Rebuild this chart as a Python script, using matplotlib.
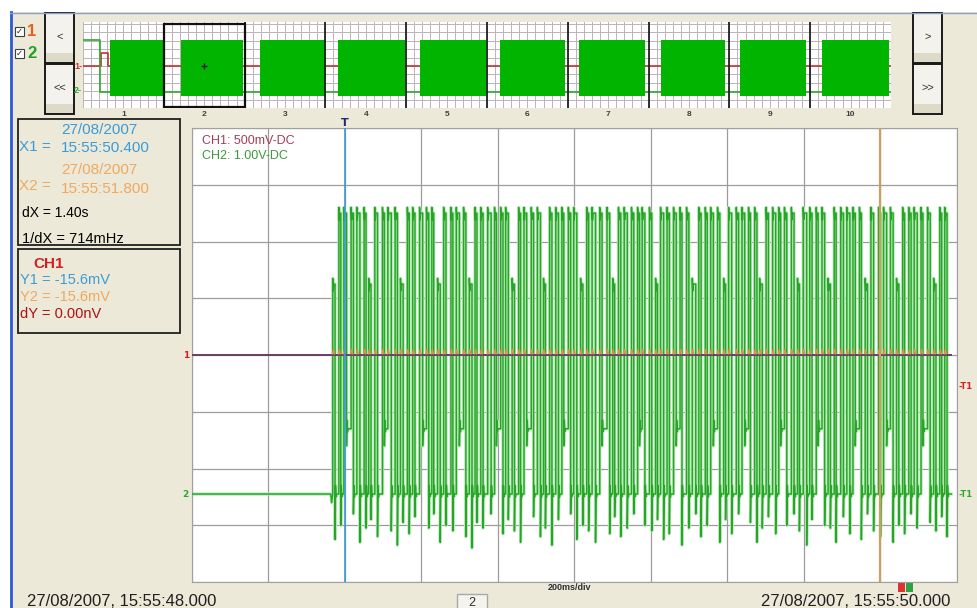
import matplotlib
matplotlib.use('Agg')
import matplotlib.pyplot as plt
import matplotlib.transforms as mtransforms
from matplotlib.patches import Rectangle
import numpy as np

plt.rcParams['font.family'] = ['Liberation Sans', 'DejaVu Sans']

W, H = 978, 608

# ---- main screen: 2 s window, 200 ms/div, 8 vertical divisions ----
burst_start_ms = 368
# CH2 pulse train: alternating high / low durations (ms)
high_ms = [6, 5, 7, 6, 8, 5, 6, 7, 5, 9,
           6, 7, 5, 6, 8, 6, 5, 7, 6, 5,
           8, 6, 7, 5, 6, 9, 5, 6, 7, 6,
           5, 7, 6, 8, 5, 6, 7, 5, 6, 8,
           6, 5, 9, 6, 7, 5, 6, 8, 6, 5,
           7, 6, 5, 8, 6, 7, 5, 6, 9, 6,
           5, 7, 6, 5, 8, 6, 7, 5, 6, 7,
           6, 8, 5, 6, 7, 5, 9, 6, 5, 7,
           6, 5, 7, 8, 6, 5, 6, 7, 5, 8,
           7, 6, 5, 6, 8, 5, 7, 6, 5, 6]
low_ms = [10, 8, 12, 9, 11, 7, 10, 13, 9, 10,
          8, 11, 9, 12, 10, 8, 10, 9, 13, 9,
          11, 9, 8, 10, 12, 9, 11, 7, 10, 11,
          9, 12, 10, 8, 11, 10, 9, 12, 8, 10,
          10, 9, 11, 13, 8, 10, 9, 11, 10, 7,
          12, 10, 8, 9, 11, 10, 12, 9, 8, 11,
          9, 11, 10, 8, 12, 9, 10, 11, 7, 10,
          11, 8, 10, 12, 9, 10, 8, 11, 10, 9,
          10, 12, 9, 8, 11, 10, 9, 13, 8, 10,
          9, 10, 11, 8, 10, 12, 9, 10, 8, 11]
# undershoot depth of each falling edge (divisions)
spike_div = [0.75, 1.0, 0.85, 1.2, 0.7, 0.95, 1.1, 0.8, 1.25, 0.9,
             0.65, 1.05, 0.85, 1.15, 0.75, 0.95, 1.2, 0.7, 1.0, 0.9,
             1.1, 0.8, 0.6, 1.05, 0.95, 1.2, 0.75, 0.85, 1.1, 0.9,
             0.7, 1.0, 1.15, 0.8, 0.95, 0.65, 1.1, 0.85, 1.2, 0.75,
             1.0, 0.9, 0.7, 1.05, 0.85, 1.15, 0.8, 0.95, 1.2, 0.7,
             1.0, 0.9, 1.1, 0.75, 0.85, 1.05, 0.65, 0.95, 1.2, 0.8,
             1.0, 0.9, 0.7, 1.1, 0.85, 1.2, 0.8, 1.05, 0.7, 0.95,
             1.15, 0.85, 0.75, 1.0, 1.2, 0.9, 0.65, 1.1, 0.8, 1.0,
             0.95, 0.7, 1.15, 0.85, 1.05, 0.75, 1.2, 0.9, 0.8, 1.1,
             0.7, 1.0, 0.85, 1.2, 0.95, 0.75, 1.05, 0.9, 1.15, 0.8]
# pulses that do not reach the full level
runt_high_idx = [0, 6, 11, 17, 22, 29, 34, 40, 45, 52, 58, 63, 69, 75, 80, 86, 91, 97]
runt_low_idx = [2, 8, 14, 20, 26, 31, 37, 43, 49, 55, 61, 66, 72, 78, 84, 89, 95]

ch1_div = 4.0
ch2_high_div = 6.5
ch2_low_div = 1.55
runt_high_div = 5.25
runt_low_div = 2.7
trig_ch1_div = 3.44
trig_ch2_div = 1.55
cursor_x1_ms = 400
cursor_x2_ms = 1800

# ---- overview strip: 10 records of 2 s ----
ov_burst_start_s = [0.67, 2.42, 4.37, 6.30, 8.35, 10.32, 12.27, 14.30, 16.27, 18.30]
ov_burst_end_s = [2.02, 3.95, 6.02, 7.97, 9.98, 11.92, 13.90, 15.90, 17.90, 19.95]
ov_ch2_t = [0.0, 0.42, 0.42, 20.0]
ov_ch2_v = [6.5, 6.5, 1.55, 1.55]
ov_ch1_t = [0.0, 0.45, 0.45, 0.62, 0.62, 20.0]
ov_ch1_v = [4.0, 4.0, 5.26, 5.26, 4.0, 4.0]
ov_labels = ['1', '2', '3', '4', '5', '6', '7', '8', '9', '10']
ov_selected = 2

BEIGE = '#ECE9D8'
GREEN = '#2EA82E'
X1_COL = '#3C9BD6'
X2_COL = '#F0A860'

fig = plt.figure(figsize=(W / 100, H / 100), dpi=100, facecolor=BEIGE)

# background / window chrome in pixel coordinates
bg = fig.add_axes([0, 0, 1, 1], zorder=0)
bg.set_xlim(0, W)
bg.set_ylim(H, 0)
bg.axis('off')
bg.add_patch(Rectangle((0, 0), W, 12, facecolor='white', edgecolor='none'))
bg.add_patch(Rectangle((0, 0), 10, H, facecolor='white', edgecolor='none'))
bg.plot([10.5, 10.5], [12, H], color='#2A5BD7', lw=2)
bg.plot([10, W], [12.5, 12.5], color='#8AA0C8', lw=1)

# check boxes
for yy, lab, col in [(31, '1', '#E8601C'), (53, '2', '#22A022')]:
    bg.add_patch(Rectangle((15, yy - 4.5), 9, 9, facecolor='white',
                           edgecolor='#404040', lw=0.8))
    bg.text(19.5, yy, '\u2713', fontsize=6, ha='center', va='center',
            color='#202020', family='DejaVu Sans')
    bg.text(27, yy, lab, fontsize=12, ha='left', va='center', color=col,
            fontweight='bold')

# navigation buttons
for x0, labs in [(45, ['<', '<<']), (913, ['>', '>>'])]:
    for i, lab in enumerate(labs):
        y0 = 13 + i * 51
        bg.add_patch(Rectangle((x0, y0), 29, 50, facecolor='#F3F2EC',
                               edgecolor='#1A1A1A', lw=1.4))
        bg.add_patch(Rectangle((x0 + 1, y0 + 40), 27, 9, facecolor='#DEDAC8',
                               edgecolor='none'))
        bg.text(x0 + 14.5, y0 + 24, lab, fontsize=8, ha='center',
                va='center', color='#303030')

# cursor info boxes
bg.add_patch(Rectangle((18, 119), 162, 126, facecolor='none',
                       edgecolor='#202020', lw=1.3))
bg.add_patch(Rectangle((18, 249), 162, 84, facecolor='none',
                       edgecolor='#202020', lw=1.3))
fs = 11
bg.text(19, 147, 'X1 =', color=X1_COL, fontsize=fs, va='center')
bg.text(61, 130, '27/08/2007', color=X1_COL, fontsize=fs, va='center')
bg.text(61, 148, '15:55:50.400', color=X1_COL, fontsize=fs, va='center')
bg.text(19, 186, 'X2 =', color=X2_COL, fontsize=fs, va='center')
bg.text(61, 170, '27/08/2007', color=X2_COL, fontsize=fs, va='center')
bg.text(61, 189, '15:55:51.800', color=X2_COL, fontsize=fs, va='center')
bg.text(22, 213, 'dX = 1.40s', color='black', fontsize=10, va='center')
bg.text(22, 239, '1/dX = 714mHz', color='black', fontsize=10.5, va='center')
bg.text(49, 264, 'CH1', color='#D02020', fontsize=11, va='center',
        ha='center', fontweight='bold')
bg.text(20, 280, 'Y1 = -15.6mV', color=X1_COL, fontsize=10.5, va='center')
bg.text(20, 297, 'Y2 = -15.6mV', color=X2_COL, fontsize=10.5, va='center')
bg.text(20, 314, 'dY = 0.00nV', color='#B01010', fontsize=10.5, va='center')

# bottom status line
bg.text(570, 588, '200ms/div', fontsize=6.5, ha='center', va='center',
        color='#303030', fontweight='bold')
bg.add_patch(Rectangle((898, 583), 7, 9, facecolor='#E03030', edgecolor='none'))
bg.add_patch(Rectangle((906, 583), 7, 9, facecolor='#30A040', edgecolor='none'))
bg.text(27, 601, '27/08/2007, 15:55:48.000', fontsize=12, va='center',
        color='#202020')
bg.text(950, 601, '27/08/2007, 15:55:50.000', fontsize=12, va='center',
        ha='right', color='#202020')
bg.add_patch(Rectangle((457, 594), 30, 16, facecolor='#F4F3EE',
                       edgecolor='#A8A8A8', lw=1))
bg.text(472, 603, ov_labels[ov_selected - 1], fontsize=9, ha='center',
        va='center', color='#303030')

# ---- overview strip ----
ov = fig.add_axes([83 / W, 1 - 108 / H, 808 / W, 86 / H], zorder=2)
ov.set_facecolor('white')
ov.set_xlim(0, 20)
ov.set_ylim(0, 8.2)
ov.set_xticks(np.arange(0, 20.01, 0.2))
ov.set_yticks(np.arange(0.8, 8.2, 0.8))
ov.grid(True, color='#BCB2B8', lw=0.7)
ov.tick_params(length=0, labelbottom=False, labelleft=False)
for sp in ov.spines.values():
    sp.set_visible(False)
ov.plot(ov_ch1_t, ov_ch1_v, color='#C83030', lw=1.2, zorder=3)
ov.plot(ov_ch2_t, ov_ch2_v, color=GREEN, lw=1.2, zorder=3)
for s0, s1 in zip(ov_burst_start_s, ov_burst_end_s):
    ov.fill_between([s0, s1], 1.1, ch2_high_div, color='#00B400', lw=0,
                    zorder=4)
for b in np.arange(4, 19, 2):
    ov.axvline(b, color='#202020', lw=1.3, zorder=5)
ov.add_patch(Rectangle((2 * (ov_selected - 1), 0.12), 2, 7.9, facecolor='none',
                       edgecolor='#101010', lw=1.6, zorder=6))
ov.plot([2 * ov_selected - 1], [ch1_div], marker='+', color='#202020',
        ms=5, zorder=7)
ov_tr = mtransforms.blended_transform_factory(ov.transData, ov.transAxes)
for i, lab in enumerate(ov_labels):
    ov.text(2 * i + 1, -0.03, lab, transform=ov_tr, ha='center', va='top',
            fontsize=6, color='#404040', fontweight='bold')
ov_tl = mtransforms.blended_transform_factory(ov.transAxes, ov.transData)
ov.text(-0.001, ch1_div, '1-', transform=ov_tl, ha='right', va='center',
        fontsize=6.5, color='#C83030', fontweight='bold')
ov.text(-0.001, ch2_low_div + 0.15, '2-', transform=ov_tl, ha='right',
        va='center', fontsize=6.5, color=GREEN, fontweight='bold')

# ---- main oscilloscope screen ----
ax = fig.add_axes([192 / W, 1 - 582 / H, 765 / W, 454 / H], zorder=2)
ax.set_facecolor('white')
ax.set_xlim(0, 2000)
ax.set_ylim(0, 8)
ax.set_xticks(np.arange(0, 2001, 200))
ax.set_yticks(np.arange(0, 9, 1))
ax.grid(True, color='#9C9C9C', lw=0.9)
ax.tick_params(length=0, labelbottom=False, labelleft=False)
for sp in ax.spines.values():
    sp.set_color('#A0A0A0')

# build CH2 trace from the segment lists
t = [0, burst_start_ms - 5, burst_start_ms - 3, burst_start_ms]
v = [ch2_low_div, ch2_low_div, ch2_low_div - 0.15, ch2_low_div]
edges = []
tc = burst_start_ms
prev = ch2_low_div
for i, (hd, ld, sp) in enumerate(zip(high_ms, low_ms, spike_div)):
    hi = runt_high_div if i in runt_high_idx else ch2_high_div
    lo = runt_low_div if i in runt_low_idx else ch2_low_div
    t += [tc, tc, tc + 1.2, tc + 2.5]
    v += [prev, hi + 0.1, hi - 0.12, hi]
    edges.append(tc)
    tc += hd
    depth = lo - 0.3 if i in runt_low_idx else sp
    t += [tc, tc, tc + 1.2, tc + 2.6, tc + 4.0]
    v += [hi, depth, lo + 0.15, lo - 0.05, lo]
    edges.append(tc)
    tc += ld
    prev = lo
t.append(tc)
v.append(prev)

ax.plot(t, v, color='#B2E8B2', lw=2.3, zorder=2)
ax.plot(t, v, color='#28A428', lw=1.05, zorder=3)

# CH1 baseline with crosstalk from the CH2 edges
ax.plot([0, tc], [ch1_div, ch1_div], color='#6A3D66', lw=1.4, zorder=4)
rt, rv = [], []
for e in edges[::2]:
    rt += [e - 1.0, e + 1.5, e + 4.0, np.nan]
    rv += [ch1_div + 0.02, ch1_div + 0.1, ch1_div + 0.02, np.nan]
ax.plot(rt, rv, color='#E8904A', lw=0.9, zorder=5)

ax.axvline(cursor_x1_ms, color='#3A9AD9', lw=1.2, zorder=6)
ax.axvline(cursor_x2_ms, color='#C8A060', lw=1.6, zorder=6)

tr_top = mtransforms.blended_transform_factory(ax.transData, ax.transAxes)
ax.text(cursor_x1_ms, 1.0, 'T', transform=tr_top, ha='center', va='bottom',
        fontsize=8, color='#1E2A7A', fontweight='bold', family='DejaVu Sans')

ax.text(0.013, 0.985, 'CH1: 500mV-DC', transform=ax.transAxes, fontsize=9,
        color='#A0405A', va='top')
ax.text(0.013, 0.952, 'CH2: 1.00V-DC', transform=ax.transAxes, fontsize=9,
        color='#3A9A3A', va='top')

tr_lr = mtransforms.blended_transform_factory(ax.transAxes, ax.transData)
ax.text(-0.004, ch1_div, '1', transform=tr_lr, ha='right', va='center',
        fontsize=6.5, color='#D02020', fontweight='bold', family='DejaVu Sans')
ax.text(-0.004, ch2_low_div, '2', transform=tr_lr, ha='right', va='center',
        fontsize=6.5, color=GREEN, fontweight='bold', family='DejaVu Sans')
ax.text(1.002, trig_ch1_div, '-T1', transform=tr_lr, ha='left', va='center',
        fontsize=6, color='#D02020', fontweight='bold', family='DejaVu Sans')
ax.text(1.002, trig_ch2_div, '-T1', transform=tr_lr, ha='left', va='center',
        fontsize=6, color=GREEN, fontweight='bold', family='DejaVu Sans')

fig.savefig('out.png', dpi=100, facecolor=BEIGE)
